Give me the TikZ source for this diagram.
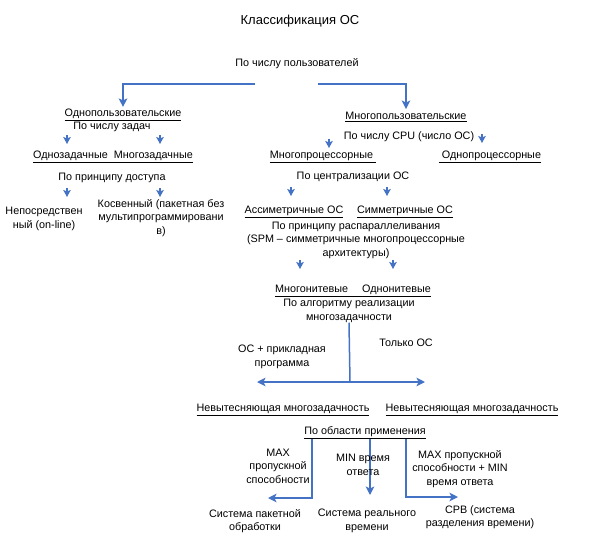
\documentclass[tikz,border=0pt]{standalone}
\usepackage{fontspec}
\setmainfont{Liberation Sans}
\usetikzlibrary{arrows.meta}
\definecolor{schemeink}{HTML}{000000}
\definecolor{schemeblue}{HTML}{4472C4}
\tikzset{
  lbl/.style={schemeink, font=\fontsize{10.8}{13.5}\selectfont, align=center, inner sep=0pt},
  link/.style={schemeblue, line width=1.5pt},
  linkarr/.style={link, -{Stealth[length=8.5pt,width=8.5pt,inset=2pt]}},
  stubarr/.style={link, -{Stealth[length=7pt,width=7.5pt,inset=1.5pt]}},
}
\newcommand{\stubarrow}[3]{%
  \coordinate (#1) at (#2,#3);
  \draw[stubarr] (#1) -- ++(0,9);
}

\begin{document}
\begin{tikzpicture}[x=1pt, y=-1pt]
  \useasboundingbox (0,0) rectangle (598,544);

  \node[lbl, font=\fontsize{13}{16}\selectfont] (title) at (300,21) {Классификация ОС};
  \node[lbl] (users) at (297,64) {По числу пользователей};

  % one user
  \node[lbl] (single) at (123,115) {\underline{Однопользовательские}};
  \node[lbl] (tasks) at (112,127) {По числу задач};
  \stubarrow{sA}{67}{135}
  \stubarrow{sB}{160}{135}
  \node[lbl] (taskkinds) at (113,157) {\underline{Однозадачные\ \ Многозадачные}};
  \node[lbl] (access) at (112,178) {По принципу доступа};
  \stubarrow{sC}{67}{188}
  \stubarrow{sD}{160}{188}
  \node[lbl] (direct) at (44,219) {Непосредствен\\ный (on-line)};
  \node[lbl] (indirect) at (161,218) {Косвенный (пакетная без\\мультипрограммировани\\в)};

  % many users
  \node[lbl] (multi) at (406,117) {\underline{Многопользовательские}};
  \node[lbl] (cpu) at (409,137) {По числу CPU (число ОС)};
  \stubarrow{sE}{329}{139}
  \stubarrow{sF}{482}{134}
  \node[lbl] (procs) at (323,157) {\underline{Многопроцессорные\ }};
  \node[lbl] (uniproc) at (490,157) {\underline{\ Однопроцессорные}};
  \node[lbl] (central) at (353,177) {По централизации ОС};
  \stubarrow{sG}{291}{187}
  \stubarrow{sH}{387}{187}
  \node[lbl] (asym) at (294,212) {\underline{Ассиметричные ОС}};
  \node[lbl] (sym) at (405,212) {\underline{Симметричные ОС}};
  \node[lbl] (parallel) at (356,240) {По принципу распараллеливания\\(SPM -- симметричные многопроцессорные\\архитектуры)};
  \stubarrow{sI}{300}{260}
  \stubarrow{sJ}{393}{260}
  \node[lbl] (threads) at (353,291) {\underline{Многонитевые\hspace{14pt}Однонитевые}};
  \node[lbl] (algo) at (349,311) {По алгоритму реализации\\многозадачности};

  % fork by number of users
  \coordinate (forkL) at (255,84);
  \coordinate (forkR) at (318,84);
  \draw[linkarr] (forkL) -- (forkL -| single) -- ([yshift=2pt]single.north);
  \draw[linkarr] (forkR) -- (forkR -| multi) -- ([yshift=3pt]multi.north);

  % multitasking split
  \coordinate (split) at (350,382);
  \coordinate (splitL) at (257,382);
  \coordinate (splitR) at (425,382);
  \draw[link] (algo.south) -- (split);
  \draw[linkarr] (split) -- (splitL);
  \draw[linkarr] (split) -- (splitR);
  \node[lbl] (withapp) at (282,357) {ОС + прикладная\\программа};
  \node[lbl] (osonly) at (406,343) {Только ОС};
  \node[lbl] (nonpreA) at (283,410) {\underline{Невытесняющая многозадачность}};
  \node[lbl] (nonpreB) at (472,410) {\underline{Невытесняющая многозадачность}};

  % field of use
  \node[lbl] (area) at (365,433) {\underline{По области применения}};
  \coordinate (batchturn) at (312,498);
  \coordinate (batchend) at (268,498);
  \coordinate (rtend) at (370,495);
  \coordinate (tsturn) at (406,497);
  \coordinate (tsend) at (458,497);
  \draw[linkarr] (area.south -| batchturn) -- (batchturn) -- (batchend);
  \draw[linkarr] (area.south -| rtend) -- (rtend);
  \draw[linkarr] (area.south -| tsturn) -- (tsturn) -- (tsend);
  \node[lbl] (maxthru) at (278,466) {MAX\\пропускной\\способности};
  \node[lbl] (minresp) at (363,465) {MIN время\\ответа};
  \node[lbl] (both) at (460,469) {MAX пропускной\\способности + MIN\\время ответа};
  \node[lbl] (batch) at (255,521) {Система пакетной\\обработки};
  \node[lbl] (realtime) at (367,521) {Система реального\\времени};
  \node[lbl] (timeshare) at (480,517) {СРВ (система\\разделения времени)};

\end{tikzpicture}
\end{document}
